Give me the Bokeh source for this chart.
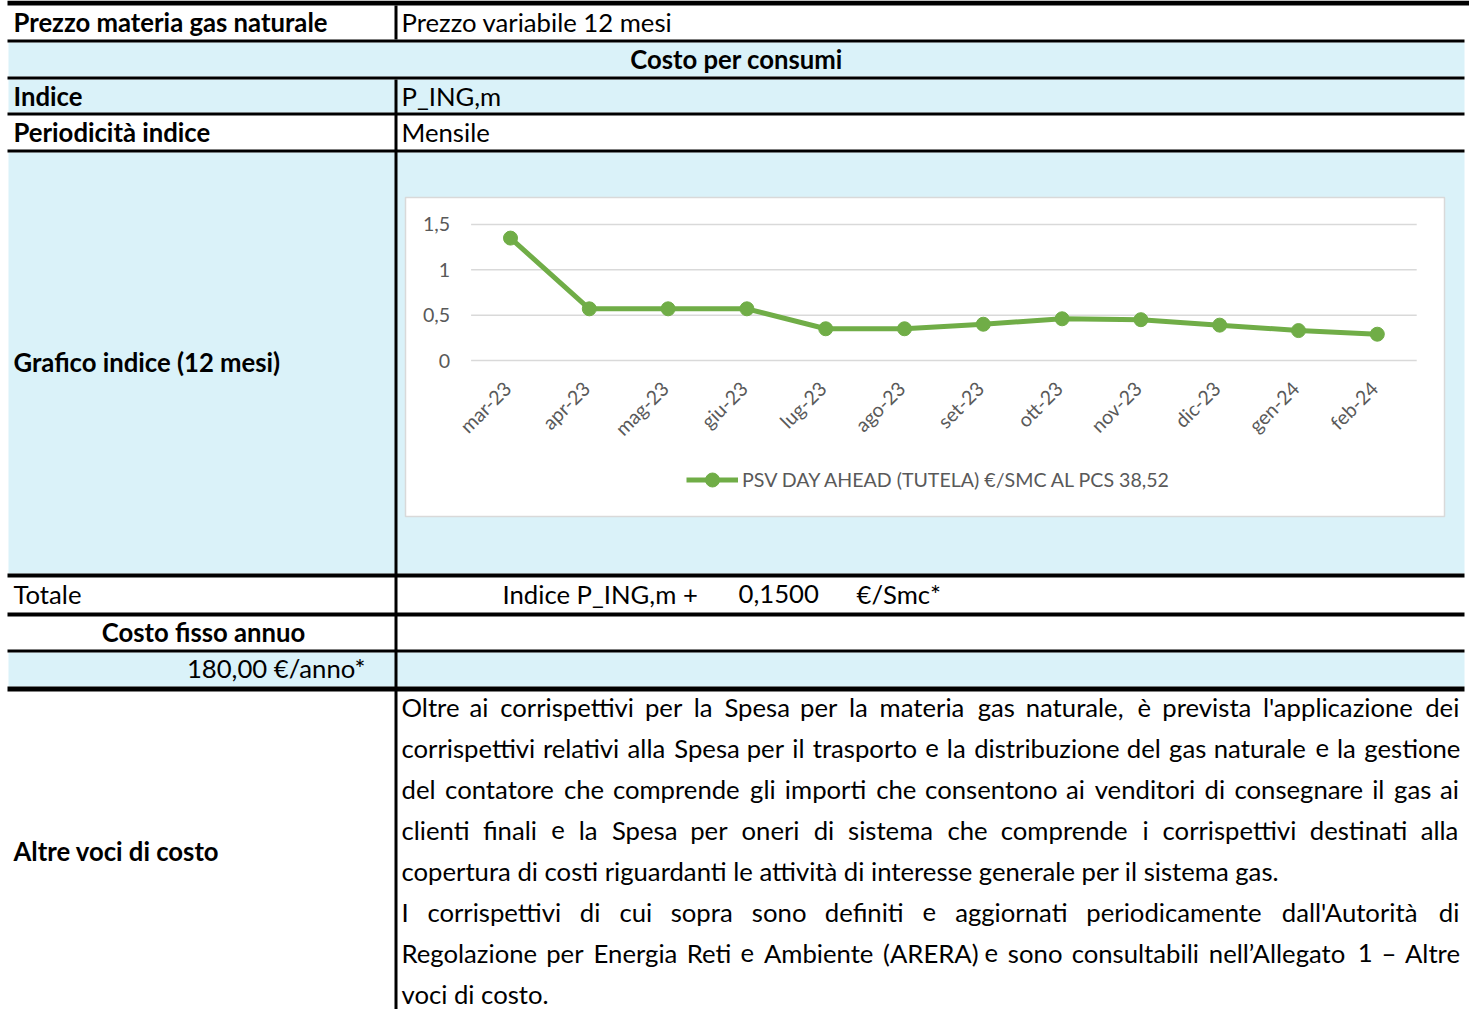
import math
from bokeh.plotting import figure
from bokeh.models import Range1d, Legend, LegendItem
from bokeh.core.properties import value
from bokeh.embed import file_html
from bokeh.resources import INLINE

# ---------------- data ----------------
months = ["mar-23", "apr-23", "mag-23", "giu-23", "lug-23", "ago-23",
          "set-23", "ott-23", "nov-23", "dic-23", "gen-24", "feb-24"]
psv_values = [1.35, 0.57, 0.57, 0.57, 0.35, 0.35, 0.40, 0.46, 0.45, 0.39, 0.33, 0.29]
y_ticks = [0, 0.5, 1, 1.5]
y_tick_labels = ["0", "0,5", "1", "1,5"]
series_name = "PSV DAY AHEAD (TUTELA) €/SMC AL PCS 38,52"

row_labels = ["Prezzo materia gas naturale", "Indice", "Periodicità indice",
              "Grafico indice (12 mesi)", "Altre voci di costo"]
row_values = ["Prezzo variabile 12 mesi", "P_ING,m", "Mensile"]
section_title = "Costo per consumi"
total_label = "Totale"
total_parts = ["Indice P_ING,m +", "0,1500", "€/Smc*"]
fixed_label = "Costo fisso annuo"
fixed_value = "180,00 €/anno*"
paragraph = [
    ("Oltre ai corrispettivi per la Spesa per la materia gas naturale, è prevista l'applicazione dei", True),
    ("corrispettivi relativi alla Spesa per il trasporto e la distribuzione del gas naturale e la gestione", True),
    ("del contatore che comprende gli importi che consentono ai venditori di consegnare il gas ai", True),
    ("clienti finali e la Spesa per oneri di sistema che comprende i corrispettivi destinati alla", True),
    ("copertura di costi riguardanti le attività di interesse generale per il sistema gas.", False),
    ("I corrispettivi di cui sopra sono definiti e aggiornati periodicamente dall'Autorità di", True),
    ("Regolazione per Energia Reti e Ambiente (ARERA) e sono consultabili nell’Allegato 1 – Altre", True),
    ("voci di costo.", False),
]

# ---------------- styles / layout ----------------
FONT = value("Lato")
LIGHT = "#DAF2F9"
GREEN = "#70AD47"
GREY_TXT = "#595959"
GRID = "#D9D9D9"
TXT_SIZE = "25.7px"
CH_SIZE = "19.6px"

W, H = 1469, 1009
p = figure(width=W, height=H, x_range=Range1d(0, W), y_range=Range1d(H, 0),
           output_backend="svg", toolbar_location=None, min_border=0,
           x_axis_location=None, y_axis_location=None)
p.grid.visible = False
p.outline_line_color = None
p.background_fill_color = "white"
p.border_fill_color = "white"

# light-blue row fills (top, bottom in page pixels)
fills = [(42, 76), (79, 112), (152, 573), (652, 686)]
p.quad(left=[8] * len(fills), right=[1464] * len(fills),
       top=[f[0] for f in fills], bottom=[f[1] for f in fills],
       fill_color=LIGHT, line_color=None)

# horizontal borders
hb = [(0, 5), (39, 42), (76, 79), (112, 115), (149, 152), (573, 577),
      (612, 616), (649, 652), (686, 691)]
p.quad(left=[7] * len(hb), right=[1469] + [1464] * (len(hb) - 1),
       top=[b[0] for b in hb], bottom=[b[1] for b in hb],
       fill_color="black", line_color=None)
# vertical border between columns
vb = [(5, 39), (79, 1009)]
p.quad(left=[394] * 2, right=[397] * 2, top=[v[0] for v in vb], bottom=[v[1] for v in vb],
       fill_color="black", line_color=None)

# chart box
p.quad(left=[405], right=[1444], top=[197], bottom=[516],
       fill_color="white", line_color=GRID, line_width=1.5)

# ---------------- chart via extra ranges ----------------
X0, DX = 510.0, 78.8     # page px of first category, px per category
Y0, DY = 360.0, 90.67    # page px of value 0, px per unit
p.extra_x_ranges = {"chart": Range1d((0 - X0) / DX, (W - X0) / DX)}
p.extra_y_ranges = {"chart": Range1d((Y0 - H) / DY, (Y0 - 0) / DY)}
C = dict(x_range_name="chart", y_range_name="chart")

idx = list(range(len(months)))
n = len(months)
p.segment(x0=[-0.5] * len(y_ticks), x1=[n - 0.5] * len(y_ticks), y0=y_ticks, y1=y_ticks,
          line_color=GRID, line_width=1.5, **C)
p.text(x=[-0.5] * len(y_ticks), y=y_ticks, text=y_tick_labels, x_offset=-21,
       text_align="right", text_baseline="middle", text_font=FONT,
       text_font_size=CH_SIZE, text_color=GREY_TXT, **C)
p.text(x=idx, y=[-0.27] * n, text=months, angle=math.pi / 4, x_offset=-3,
       text_align="right", text_baseline="middle", text_font=FONT,
       text_font_size=CH_SIZE, text_color=GREY_TXT, **C)

ln = p.line(idx, psv_values, line_color=GREEN, line_width=5, **C)
pts = p.scatter(idx, psv_values, size=14, fill_color=GREEN, line_color=GREEN, **C)

legend = Legend(items=[LegendItem(label=series_name, renderers=[ln, pts])],
                location=(686, 512), orientation="horizontal",
                glyph_width=52, glyph_height=35, label_height=35, label_standoff=4,
                padding=0, spacing=0, margin=0, border_line_color=None,
                background_fill_alpha=0, label_text_font="Lato",
                label_text_font_size=CH_SIZE, label_text_color=GREY_TXT)
p.add_layout(legend)

# ---------------- table texts (y = vertical centre of the text line) ----------------
def txt(x, y, s, bold=False, align="left"):
    p.text(x=[x], y=[y], text=[s], text_align=align, text_baseline="middle",
           text_font=FONT, text_font_size=TXT_SIZE, text_color="black",
           text_font_style="bold" if bold else "normal")

txt(13, 21, row_labels[0], bold=True)
txt(401, 21, row_values[0])
txt(736, 58, section_title, bold=True, align="center")
txt(13, 95, row_labels[1], bold=True)
txt(401, 95, row_values[1])
txt(13, 131, row_labels[2], bold=True)
txt(401, 131, row_values[2])
txt(13, 361, row_labels[3], bold=True)
txt(13, 593, total_label)
txt(502, 593, total_parts[0])
txt(738, 593, total_parts[1])
txt(856, 593, total_parts[2])
txt(203, 631, fixed_label, bold=True, align="center")
txt(365, 667, fixed_value, align="right")
txt(13, 850, row_labels[4], bold=True)

# justified paragraph: word slots estimated with Calibri-like advance widths
CAL = {' ': .226, 'a': .479, 'b': .525, 'c': .423, 'd': .525, 'e': .498, 'f': .305,
       'g': .471, 'h': .525, 'i': .229, 'j': .239, 'k': .455, 'l': .229, 'm': .799,
       'n': .525, 'o': .527, 'p': .525, 'q': .525, 'r': .349, 's': .391, 't': .335,
       'u': .525, 'v': .452, 'w': .715, 'x': .433, 'y': .453, 'z': .395,
       'A': .579, 'E': .488, 'I': .252, 'L': .420, 'O': .662, 'R': .543, 'S': .459,
       '1': .507, ',': .250, '.': .252, "'": .221, '’': .250, '(': .303, ')': .303,
       '–': .498, 'è': .498, 'à': .479}
REF_PX = 27.4
PX0, PX1 = 401, 1459
mid0, lead = 706, 41.0

wx, wy, wt = [], [], []
for k, (line, just) in enumerate(paragraph):
    ym = mid0 + k * lead
    if not just:
        wx.append(PX0); wy.append(ym); wt.append(line)
        continue
    words = line.split(" ")
    widths = [sum(CAL.get(c, 0.5) for c in w) * REF_PX for w in words]
    gap = (PX1 - PX0 - sum(widths)) / (len(words) - 1)
    x = PX0
    for w, wd in zip(words, widths):
        wx.append(x); wy.append(ym); wt.append(w)
        x += wd + gap
p.text(x=wx, y=wy, text=wt, text_align="left", text_baseline="middle",
       text_font=FONT, text_font_size=TXT_SIZE, text_color="black")

open("out.html", "w").write(file_html(p, INLINE))
